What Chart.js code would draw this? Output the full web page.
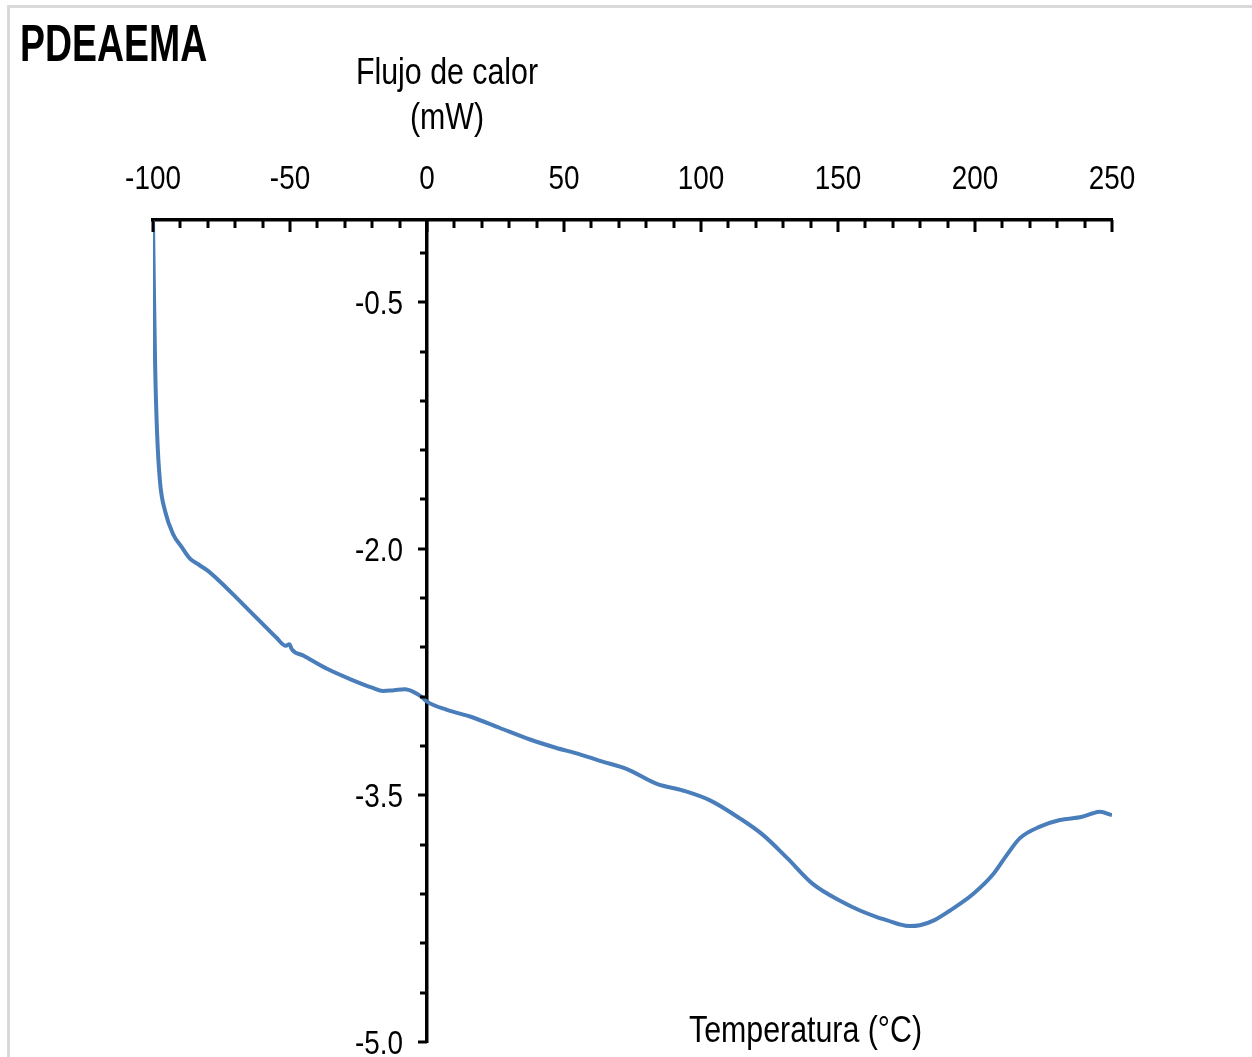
<!DOCTYPE html>
<html>
<head>
<meta charset="utf-8">
<script src="https://cdn.jsdelivr.net/npm/chart.js@4/dist/chart.umd.min.js"></script>
<style>
  body { margin: 0; background: #fff; }
  #wrap { position: relative; width: 1252px; height: 1057px; overflow: hidden; }
  #frame {
    position: absolute; left: 7px; top: 5px; right: -10px; bottom: -10px;
    border-top: 3px solid #d9d9d9; border-left: 3px solid #d9d9d9;
  }
  canvas { position: absolute; left: 0; top: 0; }
  .txt {
    position: absolute; color: #000; white-space: nowrap;
    font-family: "Liberation Sans", Arial, sans-serif;
    transform-origin: 0 0;
  }
  #title { left: 20px; top: 17px; font-size: 52px; font-weight: bold; line-height: 1; transform: scaleX(0.72); }
  #ytitle { left: 447px; top: 49px; font-size: 37px; line-height: 45px; text-align: center;
            transform: translateX(-50%) scaleX(0.82); transform-origin: 50% 0; }
  #xtitle { left: 689px; top: 1011px; font-size: 37px; line-height: 1; transform: scaleX(0.82); }
</style>
</head>
<body>
<div id="wrap">
  <div id="frame"></div>
  <canvas id="dsc" width="1252" height="1057"></canvas>
  <div class="txt" id="title">PDEAEMA</div>
  <div class="txt" id="ytitle">Flujo de calor<br>(mW)</div>
  <div class="txt" id="xtitle">Temperatura (°C)</div>
</div>
<script>
// DSC trace: temperature (°C) vs heat flow (mW)
const temperature = [
  -100, -99.6, -99.2, -98.5, -97.4, -95.6, -92.7, -89.5, -86.5, -83, -80.3,
  -75.5, -68.2, -61, -55, -51.5, -50.2, -49.4, -45, -36.5, -27.0, -20,
  -16, -12, -8, -5, -2, 0, 7.3, 15.7, 26.6, 37.6, 47, 55.8, 63.1, 73.0, 83.9,
  93.4, 103.3, 114.2, 122.6, 131.4, 140.9, 151.8, 158, 164.2, 168, 172.6,
  176, 179.9, 185, 190.9, 199.3, 206.6, 211.7, 216.4, 223.7, 231.0, 239.1,
  242.7, 245.6, 250
];
const heatFlow = [
  0, -0.49, -0.90, -1.30, -1.60, -1.77, -1.91, -1.99, -2.06, -2.10, -2.13,
  -2.20, -2.32, -2.44, -2.54, -2.59, -2.58, -2.61, -2.65, -2.73, -2.80, -2.845,
  -2.865, -2.86, -2.855, -2.87, -2.90, -2.93, -2.98, -3.02, -3.09, -3.16, -3.21,
  -3.25, -3.29, -3.34, -3.43, -3.47, -3.53, -3.64, -3.74, -3.88, -4.04, -4.15,
  -4.20, -4.24, -4.26, -4.285, -4.295, -4.29, -4.26, -4.20, -4.10, -3.98, -3.86,
  -3.76, -3.69, -3.65, -3.63, -3.61, -3.60, -3.62
];

const xLabelValues = [-100, -50, 0, 50, 100, 150, 200, 250];
const yTickValues = [-5.0, -4.7, -4.4, -4.1, -3.8, -3.5, -3.2, -2.9, -2.6, -2.3,
  -2.0, -1.7, -1.4, -1.1, -0.8, -0.5, -0.2];
const yLabelValues = [-5.0, -3.5, -2.0, -0.5];

const FONT = '34px "Liberation Sans", Arial, sans-serif';
const SQUEEZE = 0.82;

// narrow-looking text: regular face compressed horizontally
function condensedText(ctx, text, x, y, align) {
  ctx.save();
  ctx.translate(x, y);
  ctx.scale(SQUEEZE, 1);
  ctx.textAlign = align;
  ctx.fillText(text, 0, 0);
  ctx.restore();
}

// tick marks and labels: x ticks hang down from the top axis,
// y ticks stick out to the left of the axis drawn at x = 0
const axisMarks = {
  id: 'axisMarks',
  afterDraw(chart) {
    const { ctx, scales: { x, y } } = chart;
    const yAxisX = x.getPixelForValue(0);
    const top = chart.chartArea.top;
    ctx.save();
    ctx.strokeStyle = '#000';
    ctx.lineWidth = 3;
    ctx.lineCap = 'butt';
    x.ticks.forEach(t => {
      const px = Math.round(x.getPixelForValue(t.value));
      const len = xLabelValues.includes(t.value) ? 12 : 8;
      ctx.beginPath();
      ctx.moveTo(px, top);
      ctx.lineTo(px, top + len);
      ctx.stroke();
    });
    yTickValues.forEach(v => {
      const py = Math.round(y.getPixelForValue(v));
      const len = yLabelValues.includes(v) ? 9 : 7;
      ctx.beginPath();
      ctx.moveTo(yAxisX, py);
      ctx.lineTo(yAxisX - len, py);
      ctx.stroke();
    });

    ctx.fillStyle = '#000';
    ctx.font = FONT;
    ctx.textBaseline = 'alphabetic';
    xLabelValues.forEach(v => {
      condensedText(ctx, String(v), x.getPixelForValue(v), 189, 'center');
    });
    yLabelValues.forEach(v => {
      condensedText(ctx, v.toFixed(1), yAxisX - 24, y.getPixelForValue(v) + 12, 'right');
    });
    ctx.restore();
  }
};

new Chart(document.getElementById('dsc'), {
  type: 'line',
  data: {
    datasets: [{
      data: temperature.map((t, i) => ({ x: t, y: heatFlow[i] })),
      borderColor: '#4a7ebb',
      borderWidth: 4,
      pointRadius: 0,
      cubicInterpolationMode: 'monotone',
      fill: false
    }]
  },
  options: {
    responsive: false,
    animation: false,
    layout: { padding: { left: 153, right: 140, top: 0, bottom: 15 } },
    plugins: { legend: { display: false }, tooltip: { enabled: false } },
    scales: {
      x: {
        type: 'linear',
        position: 'top',
        min: -100,
        max: 250,
        afterFit: s => { s.height = 220; },
        ticks: { stepSize: 10, autoSkip: false, display: false },
        grid: { drawOnChartArea: false, drawTicks: false },
        border: { color: '#000', width: 3.5 }
      },
      y: {
        type: 'linear',
        position: { x: 0 },
        min: -5,
        max: 0,
        afterBuildTicks: s => { s.ticks = yTickValues.map(v => ({ value: v })); },
        ticks: { display: false },
        grid: { drawOnChartArea: false, drawTicks: false },
        border: { color: '#000', width: 3.5 }
      }
    }
  },
  plugins: [axisMarks]
});
</script>
</body>
</html>
